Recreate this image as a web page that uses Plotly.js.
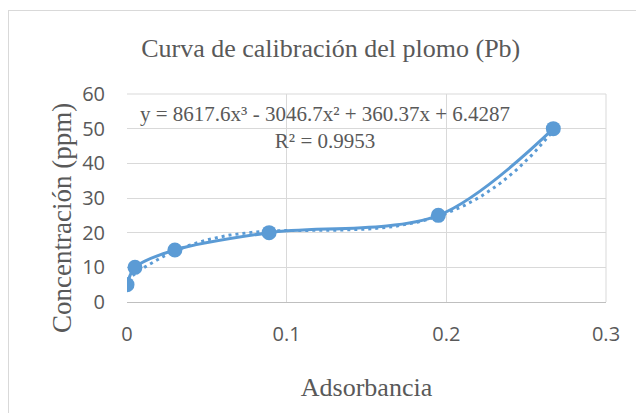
<!DOCTYPE html>
<html>
<head>
<meta charset="utf-8">
<script src="https://cdn.plot.ly/plotly-3.0.1.min.js"></script>
<style>
  html, body { margin: 0; padding: 0; background: #fff; }
  #wrap { position: relative; width: 636px; height: 413px; overflow: hidden; }
  #chart { width: 636px; height: 413px; }
  #frame { position: absolute; left: 8px; top: 10px; width: 700px; height: 500px;
           border: 1px solid #d9d9d9; pointer-events: none; box-sizing: border-box; }
</style>
</head>
<body>
<div id="wrap"><div id="chart"></div><div id="frame"></div></div>
<script>
// Data
const absorbance = [0, 0.005, 0.03, 0.089, 0.195, 0.267];
const concentration = [5, 10, 15, 20, 25, 50];
// Polynomial trendline coefficients (order 3) shown on the chart
const trendCoeffs = [8617.6, -3046.7, 360.37, 6.4287];
const rSquared = 0.9953;
const xTicks = [0, 0.1, 0.2, 0.3];
const yTicks = [0, 10, 20, 30, 40, 50, 60];

const chartTitle = 'Curva de calibración del plomo (Pb)';
const xTitle = 'Adsorbancia';
const yTitle = 'Concentración (ppm)';

// trendline evaluated along the data range
const xMin = Math.min(...absorbance), xMax = Math.max(...absorbance);
const trendX = [], trendY = [];
const nSteps = 120;
for (let i = 0; i <= nSteps; i++) {
  const x = xMin + (xMax - xMin) * i / nSteps;
  trendX.push(x);
  trendY.push(trendCoeffs[0]*x*x*x + trendCoeffs[1]*x*x + trendCoeffs[2]*x + trendCoeffs[3]);
}

const fmt = v => Math.abs(v).toString();
const eqText = 'y = ' + trendCoeffs[0] + 'x³ ' + (trendCoeffs[1] < 0 ? '- ' : '+ ') + fmt(trendCoeffs[1]) +
  'x² ' + (trendCoeffs[2] < 0 ? '- ' : '+ ') + fmt(trendCoeffs[2]) + 'x ' +
  (trendCoeffs[3] < 0 ? '- ' : '+ ') + fmt(trendCoeffs[3]) + '<br>R² = ' + rSquared;

const blue = '#5b9bd5';
const grey = '#595959';
const serif = 'Liberation Serif, Times New Roman, serif';

const traces = [
  {
    x: trendX, y: trendY, type: 'scatter', mode: 'lines',
    line: { color: blue, width: 3, dash: '3px,4px' },
    hoverinfo: 'skip'
  },
  {
    x: absorbance, y: concentration, type: 'scatter', mode: 'lines+markers',
    line: { color: blue, width: 3, shape: 'spline', smoothing: 0.9 },
    marker: { color: blue, size: 15 }
  }
];

const layout = {
  width: 636, height: 413,
  margin: { l: 127, r: 30, t: 94, b: 111 },
  paper_bgcolor: '#ffffff', plot_bgcolor: '#ffffff',
  showlegend: false,
  title: {
    text: chartTitle,
    font: { family: serif, size: 26, color: grey },
    x: 0.52, xanchor: 'center', xref: 'container',
    y: 1 - 48/413, yanchor: 'middle', yref: 'container'
  },
  xaxis: {
    range: [0, 0.3], tickvals: xTicks, ticktext: xTicks.map(String),
    showgrid: true, gridcolor: '#d9d9d9', gridwidth: 1,
    zeroline: false, showline: true, linecolor: '#bfbfbf', linewidth: 1,
    ticks: '', ticklabelstandoff: 14,
    tickfont: { family: 'Open Sans, sans-serif', size: 20, color: grey },
    title: { text: xTitle, standoff: 31,
      font: { family: serif, size: 26, color: grey } }
  },
  yaxis: {
    range: [0, 60], tickvals: yTicks, ticktext: yTicks.map(String),
    showgrid: true, gridcolor: '#d9d9d9', gridwidth: 1,
    zeroline: false, showline: false,
    ticks: '', ticklabelstandoff: 21,
    tickfont: { family: 'Open Sans, sans-serif', size: 20, color: grey }
  },
  shapes: [
    { type: 'line', xref: 'paper', yref: 'paper', x0: 1, x1: 1, y0: 0, y1: 1,
      line: { color: '#d9d9d9', width: 1 } },
    { type: 'line', xref: 'paper', yref: 'paper', x0: 0, x1: 1, y0: 1, y1: 1,
      line: { color: '#d9d9d9', width: 1 } }
  ],
  annotations: [
    {
      text: eqText, xref: 'paper', yref: 'paper',
      x: (324.5 - 127) / 479, y: (302 - 127) / 208,
      xanchor: 'center', yanchor: 'middle', showarrow: false, align: 'center',
      font: { family: serif, size: 21, color: grey }
    },
    {
      text: yTitle, xref: 'paper', yref: 'paper', textangle: -90,
      x: (62 - 127) / 479, y: (302 - 218) / 208,
      xanchor: 'center', yanchor: 'middle', showarrow: false,
      font: { family: serif, size: 27, color: grey }
    }
  ]
};

Plotly.newPlot('chart', traces, layout, { staticPlot: true, displayModeBar: false });
</script>
</body>
</html>
